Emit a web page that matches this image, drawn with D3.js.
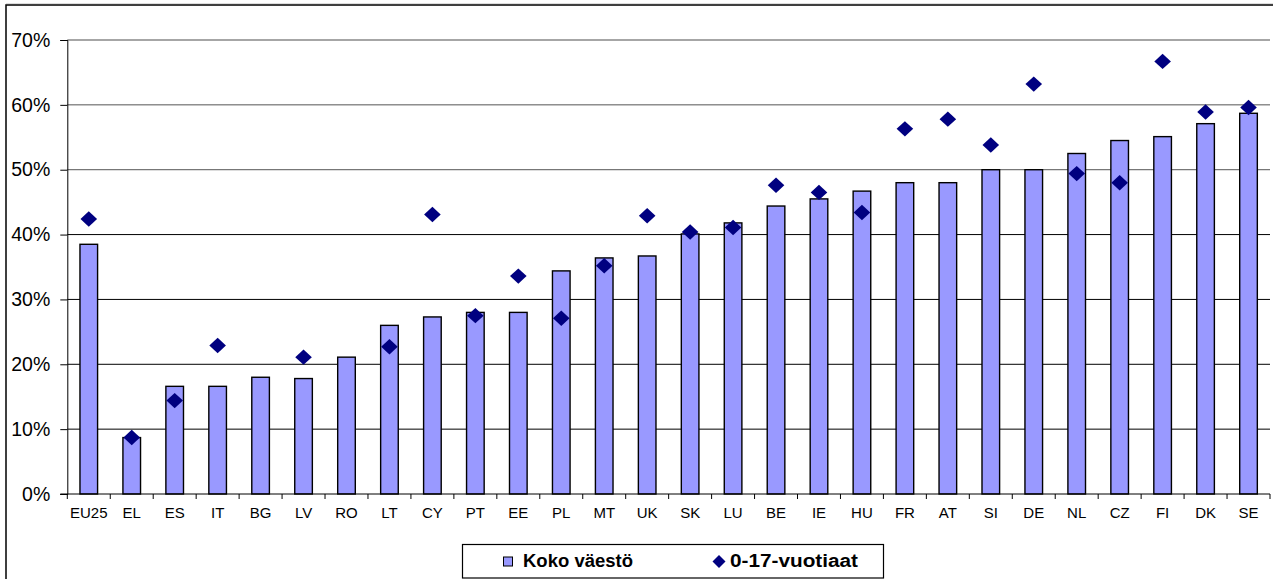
<!DOCTYPE html>
<html>
<head>
<meta charset="utf-8">
<script src="https://cdn.jsdelivr.net/npm/d3@7/dist/d3.min.js"></script>
<style>
  html, body { margin: 0; padding: 0; background: #fff; }
  svg { display: block; font-family: "Liberation Sans", Arial, sans-serif; }
</style>
</head>
<body>
<svg id="chart" width="1273" height="579"></svg>
<script>
const categories = ["EU25","EL","ES","IT","BG","LV","RO","LT","CY","PT","EE","PL","MT","UK","SK","LU","BE","IE","HU","FR","AT","SI","DE","NL","CZ","FI","DK","SE"];
const kokoVaesto = [38.5,8.7,16.6,16.6,18.0,17.8,21.1,26.0,27.3,28.0,28.0,34.4,36.4,36.7,40.1,41.8,44.4,45.5,46.7,48.0,48.0,50.0,50.0,52.5,54.5,55.1,57.1,58.7];
const vuotiaat = [42.4,8.7,14.4,22.9,null,21.1,null,22.7,43.1,27.5,33.6,27.1,35.2,42.9,40.4,41.1,47.6,46.5,43.4,56.3,57.8,53.8,63.2,49.4,48.0,66.7,58.9,59.6];
const yTicks = [0,10,20,30,40,50,60,70];
const seriesNames = ["Koko väestö","0-17-vuotiaat"];

const svg = d3.select("#chart");
const plotLeft = 67.3, plotRight = 1270, plotTop = 40, plotBottom = 494;

// outer frame
svg.append("rect").attr("x",6).attr("y",5).attr("width",1400).attr("height",700)
  .attr("fill","none").attr("stroke","#000").attr("stroke-width",1.5);
svg.append("line").attr("x1",6).attr("x2",1273).attr("y1",3.5).attr("y2",3.5)
  .attr("stroke","#ddd").attr("stroke-width",1);

const x = d3.scaleBand().domain(categories).range([plotLeft, plotRight]).padding(0);
const y = d3.scaleLinear().domain([0, 70]).range([plotBottom, plotTop]);

// gridlines
svg.append("g").selectAll("line").data(yTicks.filter(d => d > 0)).join("line")
  .attr("x1", plotLeft).attr("x2", plotRight)
  .attr("y1", d => y(d)).attr("y2", d => y(d))
  .attr("stroke", d => d === 70 ? "#888" : (d >= 50 ? "#555" : "#000"))
  .attr("stroke-width", d => d === 70 ? 1.6 : 1);

// y axis
const yAxis = d3.axisLeft(y).tickValues(yTicks).tickFormat(d => d + "%").tickSize(7).tickPadding(10);
const gy = svg.append("g").attr("transform", `translate(${plotLeft},0)`).call(yAxis);
gy.select(".domain").attr("stroke","#000").attr("stroke-width",1);
gy.selectAll(".tick line").attr("stroke","#000");
gy.selectAll(".tick text").attr("font-size", 19.5).attr("fill","#000")
  .attr("font-family","Liberation Sans, Arial, sans-serif");

// bars
const bw = x.bandwidth() * 0.41;
svg.append("g").selectAll("rect").data(categories).join("rect")
  .attr("x", (d) => x(d) + x.bandwidth()/2 - bw/2)
  .attr("y", (d,i) => y(kokoVaesto[i]))
  .attr("width", bw)
  .attr("height", (d,i) => y(0) - y(kokoVaesto[i]))
  .attr("fill", "#9999FF").attr("stroke", "#000").attr("stroke-width", 1.4);

// x axis baseline + ticks at band edges
svg.append("line").attr("x1", plotLeft - 7).attr("x2", plotRight).attr("y1", plotBottom).attr("y2", plotBottom)
  .attr("stroke","#000").attr("stroke-width",1);
const edges = categories.map(c => x(c)).concat([plotRight]);
svg.append("g").selectAll("line").data(edges).join("line")
  .attr("x1", d => d).attr("x2", d => d).attr("y1", plotBottom).attr("y2", plotBottom + 5)
  .attr("stroke","#000");

const xAxis = d3.axisBottom(x).tickSize(0).tickPadding(13);
const gx = svg.append("g").attr("transform", `translate(0,${plotBottom})`).call(xAxis);
gx.select(".domain").remove();
gx.selectAll(".tick text").attr("font-size", 15).attr("fill","#000")
  .attr("font-family","Liberation Sans, Arial, sans-serif");

// diamonds
const diamond = (hw, hh) => `M0,${-hh}L${hw},0L0,${hh}L${-hw},0Z`;
svg.append("g").selectAll("path").data(categories.filter((c,i) => vuotiaat[i] != null)).join("path")
  .attr("transform", d => {
    const i = categories.indexOf(d);
    return `translate(${x(d) + x.bandwidth()/2},${y(vuotiaat[i])})`;
  })
  .attr("d", diamond(8.3, 7.7))
  .attr("fill", "#000080");

// legend
const lg = svg.append("g");
lg.append("rect").attr("x", 462.5).attr("y", 544.5).attr("width", 421).attr("height", 33.5)
  .attr("fill","#fff").attr("stroke","#000").attr("stroke-width",1.2);
lg.append("rect").attr("x", 503.5).attr("y", 557).attr("width", 9).attr("height", 9)
  .attr("fill","#9999FF").attr("stroke","#000").attr("stroke-width",1);
lg.append("text").attr("x", 523).attr("y", 567).text(seriesNames[0])
  .attr("font-size", 17.5).attr("font-weight","bold").attr("fill","#000")
  .attr("textLength", 110).attr("lengthAdjust", "spacingAndGlyphs");
lg.append("path").attr("transform","translate(719,561.5)").attr("d", diamond(6.5,6.5)).attr("fill","#000080");
lg.append("text").attr("x", 730).attr("y", 567).text(seriesNames[1])
  .attr("font-size", 17.5).attr("font-weight","bold").attr("fill","#000")
  .attr("textLength", 128).attr("lengthAdjust", "spacingAndGlyphs");
</script>
</body>
</html>
